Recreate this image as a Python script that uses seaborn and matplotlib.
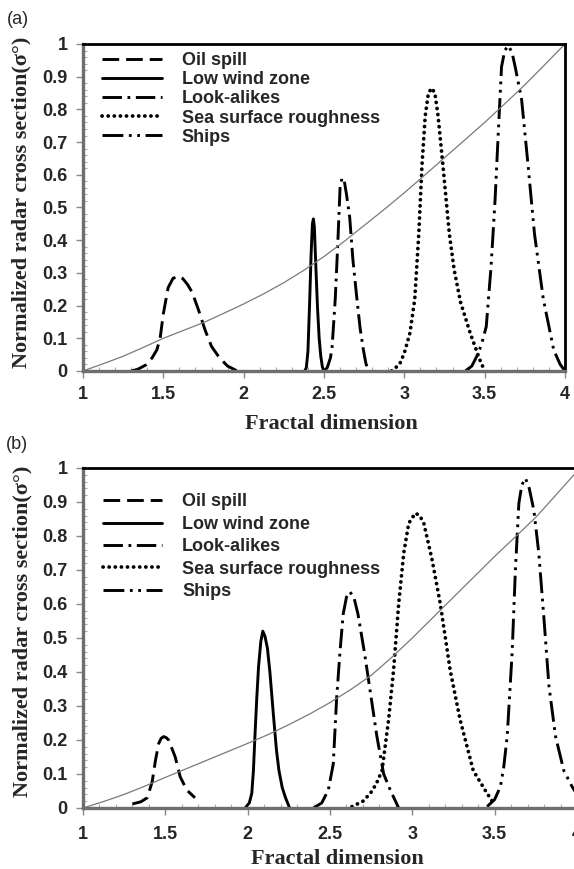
import matplotlib
matplotlib.use("Agg")
import matplotlib.pyplot as plt
import seaborn as sns
from matplotlib.ticker import MultipleLocator

# ---- data ----
series_names = ["Oil spill", "Low wind zone", "Look-alikes", "Sea surface roughness", "Ships"]

# panel (a)
a_oil_x = [1.30, 1.34, 1.39, 1.43, 1.46, 1.48, 1.50, 1.53, 1.56, 1.59, 1.62, 1.65, 1.68, 1.72, 1.76, 1.80, 1.85, 1.90, 1.96]
a_oil_y = [0.0, 0.005, 0.018, 0.04, 0.065, 0.10, 0.175, 0.255, 0.283, 0.29, 0.283, 0.265, 0.24, 0.185, 0.125, 0.075, 0.04, 0.015, 0.0]
a_wind_x = [2.38, 2.39, 2.40, 2.41, 2.42, 2.428, 2.434, 2.44, 2.45, 2.46, 2.47, 2.48, 2.49, 2.50]
a_wind_y = [0.0, 0.01, 0.06, 0.20, 0.36, 0.45, 0.465, 0.44, 0.31, 0.19, 0.10, 0.045, 0.012, 0.0]
a_look_x = [2.50, 2.52, 2.54, 2.55, 2.57, 2.585, 2.60, 2.612, 2.625, 2.64, 2.66, 2.68, 2.705, 2.725, 2.745, 2.76, 2.775]
a_look_y = [0.0, 0.01, 0.04, 0.07, 0.22, 0.38, 0.56, 0.59, 0.585, 0.54, 0.47, 0.34, 0.22, 0.13, 0.065, 0.025, 0.0]
a_sea_x = [2.92, 2.97, 3.00, 3.035, 3.065, 3.09, 3.11, 3.13, 3.15, 3.17, 3.19, 3.21, 3.24, 3.28, 3.31, 3.35, 3.41, 3.47, 3.50]
a_sea_y = [0.0, 0.02, 0.055, 0.116, 0.22, 0.42, 0.63, 0.78, 0.85, 0.865, 0.85, 0.78, 0.63, 0.42, 0.31, 0.21, 0.116, 0.034, 0.0]
a_ship_x = [3.38, 3.42, 3.45, 3.48, 3.51, 3.54, 3.565, 3.585, 3.605, 3.625, 3.647, 3.67, 3.69, 3.73, 3.77, 3.81, 3.865, 3.93, 3.97, 4.0]
a_ship_y = [0.0, 0.015, 0.044, 0.08, 0.136, 0.32, 0.525, 0.73, 0.93, 0.98, 0.995, 0.975, 0.93, 0.83, 0.63, 0.42, 0.22, 0.064, 0.02, 0.0]
a_ref_x = [1.0, 1.125, 1.25, 1.375, 1.5, 1.625, 1.75, 1.875, 2.0, 2.125, 2.25, 2.375, 2.5, 2.625, 2.75, 2.875,
           3.0, 3.125, 3.25, 3.375, 3.5, 3.625, 3.75, 3.875, 4.0]
a_ref_y = [0.0, 0.022, 0.045, 0.072, 0.10, 0.124, 0.148, 0.176, 0.205, 0.236, 0.27, 0.308, 0.35, 0.396, 0.445, 0.494,
           0.545, 0.598, 0.652, 0.706, 0.76, 0.817, 0.875, 0.937, 1.0]

# panel (b)
b_oil_x = [1.30, 1.35, 1.39, 1.42, 1.44, 1.46, 1.475, 1.49, 1.505, 1.52, 1.54, 1.56, 1.59, 1.63, 1.68]
b_oil_y = [0.012, 0.018, 0.03, 0.077, 0.14, 0.19, 0.205, 0.21, 0.207, 0.20, 0.175, 0.15, 0.092, 0.053, 0.03]
b_wind_x = [1.985, 2.01, 2.025, 2.035, 2.045, 2.055, 2.066, 2.08, 2.092, 2.105, 2.12, 2.135, 2.157, 2.175, 2.19, 2.21, 2.23, 2.255]
b_wind_y = [0.0, 0.015, 0.043, 0.11, 0.22, 0.32, 0.415, 0.49, 0.52, 0.505, 0.47, 0.40, 0.27, 0.17, 0.11, 0.06, 0.03, 0.0]
b_look_x = [2.40, 2.45, 2.49, 2.52, 2.54, 2.56, 2.58, 2.60, 2.62, 2.645, 2.67, 2.71, 2.755, 2.785, 2.826, 2.866, 2.917]
b_look_y = [0.0, 0.015, 0.053, 0.13, 0.32, 0.455, 0.57, 0.62, 0.636, 0.62, 0.57, 0.455, 0.308, 0.21, 0.10, 0.053, 0.0]
b_sea_x = [2.633, 2.70, 2.745, 2.78, 2.816, 2.856, 2.886, 2.917, 2.948, 2.978, 3.018, 3.045, 3.07, 3.12, 3.17, 3.23, 3.29, 3.37, 3.454, 3.494]
b_sea_y = [0.004, 0.02, 0.043, 0.07, 0.11, 0.26, 0.405, 0.60, 0.75, 0.837, 0.867, 0.86, 0.837, 0.73, 0.60, 0.405, 0.26, 0.11, 0.043, 0.014]
b_ship_x = [3.454, 3.50, 3.535, 3.555, 3.576, 3.606, 3.626, 3.647, 3.665, 3.687, 3.71, 3.738, 3.768, 3.80, 3.83, 3.87, 3.92, 3.97, 4.0]
b_ship_y = [0.004, 0.025, 0.063, 0.12, 0.21, 0.455, 0.70, 0.896, 0.95, 0.97, 0.94, 0.876, 0.75, 0.553, 0.357, 0.21, 0.11, 0.063, 0.04]
b_ref_x = [1.0, 1.125, 1.25, 1.375, 1.5, 1.625, 1.75, 1.875, 2.0, 2.125, 2.25, 2.375, 2.5, 2.625, 2.75, 2.875,
           3.0, 3.125, 3.25, 3.375, 3.5, 3.625, 3.75, 3.875, 4.0]
b_ref_y = [0.0, 0.019, 0.04, 0.064, 0.09, 0.115, 0.14, 0.165, 0.19, 0.216, 0.245, 0.276, 0.31, 0.348, 0.39, 0.443,
           0.50, 0.56, 0.62, 0.68, 0.74, 0.797, 0.855, 0.922, 0.99]

panels = {
    "a": [(a_oil_x, a_oil_y), (a_wind_x, a_wind_y), (a_look_x, a_look_y), (a_sea_x, a_sea_y), (a_ship_x, a_ship_y), (a_ref_x, a_ref_y)],
    "b": [(b_oil_x, b_oil_y), (b_wind_x, b_wind_y), (b_look_x, b_look_y), (b_sea_x, b_sea_y), (b_ship_x, b_ship_y), (b_ref_x, b_ref_y)],
}

# line styles (dash patterns in points)
styles = [
    dict(linestyle=(0, (12, 5)), lw=2.1),
    dict(linestyle="-", lw=2.1),
    dict(linestyle=(0, (14, 4, 2, 4)), lw=2.1),
    dict(linestyle=(0, (0.1, 4.3)), dash_capstyle="round", lw=2.7),
    dict(linestyle=(0, (15, 4, 2, 4, 2, 4)), lw=2.1),
]

sns.set_style("white")
plt.rcParams["font.family"] = ["Liberation Sans", "DejaVu Sans"]
plt.rcParams["lines.scale_dashes"] = False

fig = plt.figure(figsize=(5.74, 8.69), dpi=100)
ax_a = fig.add_axes([0.1446, 0.5731, 0.8397, 0.3763])
ax_b = fig.add_axes([0.1446, 0.0702, 0.8606, 0.3913])

serif = ["Liberation Serif", "DejaVu Serif"]

for key, ax, leg_y, spacing, xl_y, tpad in [("a", ax_a, 0.975, 0.12, -0.162, 6), ("b", ax_b, 0.925, 0.30, -0.150, 8)]:
    curves = panels[key]
    for name, (xs, ys), st in zip(series_names, curves[:5], styles):
        sns.lineplot(x=xs, y=ys, ax=ax, color="black", label=name,
                     estimator=None, sort=False, **st)
    rx, ry = curves[5]
    sns.lineplot(x=rx, y=ry, ax=ax, color="#7a7a7a", lw=0.9, estimator=None, sort=False)

    ax.set_xlim(1, 4)
    ax.set_ylim(0, 1)
    ax.xaxis.set_major_locator(MultipleLocator(0.5))
    ax.xaxis.set_minor_locator(MultipleLocator(0.1))
    ax.yaxis.set_major_locator(MultipleLocator(0.1))
    ax.yaxis.set_minor_locator(MultipleLocator(0.02))
    ax.xaxis.set_major_formatter(plt.FuncFormatter(lambda v, p: f"{v:g}"))
    ax.yaxis.set_major_formatter(plt.FuncFormatter(lambda v, p: f"{v:g}"))
    ax.tick_params(which="major", direction="out", length=5, width=1, color="#888888",
                   labelsize=13, pad=6, left=True, bottom=True)
    ax.tick_params(axis="x", which="major", pad=tpad)
    ax.tick_params(which="minor", direction="in", length=3, width=0.8, color="#aaaaaa",
                   left=True, bottom=True)
    for lbl in ax.get_xticklabels() + ax.get_yticklabels():
        lbl.set_fontweight("bold")

    for side in ["left", "bottom"]:
        ax.spines[side].set_color("#6e6e6e")
        ax.spines[side].set_linewidth(2.4)
    for side in ["top", "right"]:
        ax.spines[side].set_color("black")
        ax.spines[side].set_linewidth(2.0)

    ax.set_xlabel("Fractal dimension", fontsize=16, fontweight="bold", family=serif)
    ax.xaxis.set_label_coords(0.515, xl_y)
    ax.xaxis.label.set_va("center")
    ax.set_ylabel("Normalized radar cross section(σ°)", fontsize=16, fontweight="bold", family=serif)
    ax.yaxis.label.set_va("center")

    ax.legend(loc="upper left", bbox_to_anchor=(0.04, leg_y), frameon=False,
              prop={"family": "Liberation Sans", "weight": "bold", "size": 13},
              handlelength=3.3, handletextpad=1.1, labelspacing=spacing,
              borderaxespad=0, borderpad=0)

ax_a.yaxis.set_label_coords(-0.127, 0.515)
ax_b.yaxis.set_label_coords(-0.123, 0.52)

fig.text(0.012, 0.977, "(a)", fontsize=13, va="center", ha="left")
fig.text(0.010, 0.488, "(b)", fontsize=13, va="center", ha="left")

fig.savefig("out.png", dpi=100)
